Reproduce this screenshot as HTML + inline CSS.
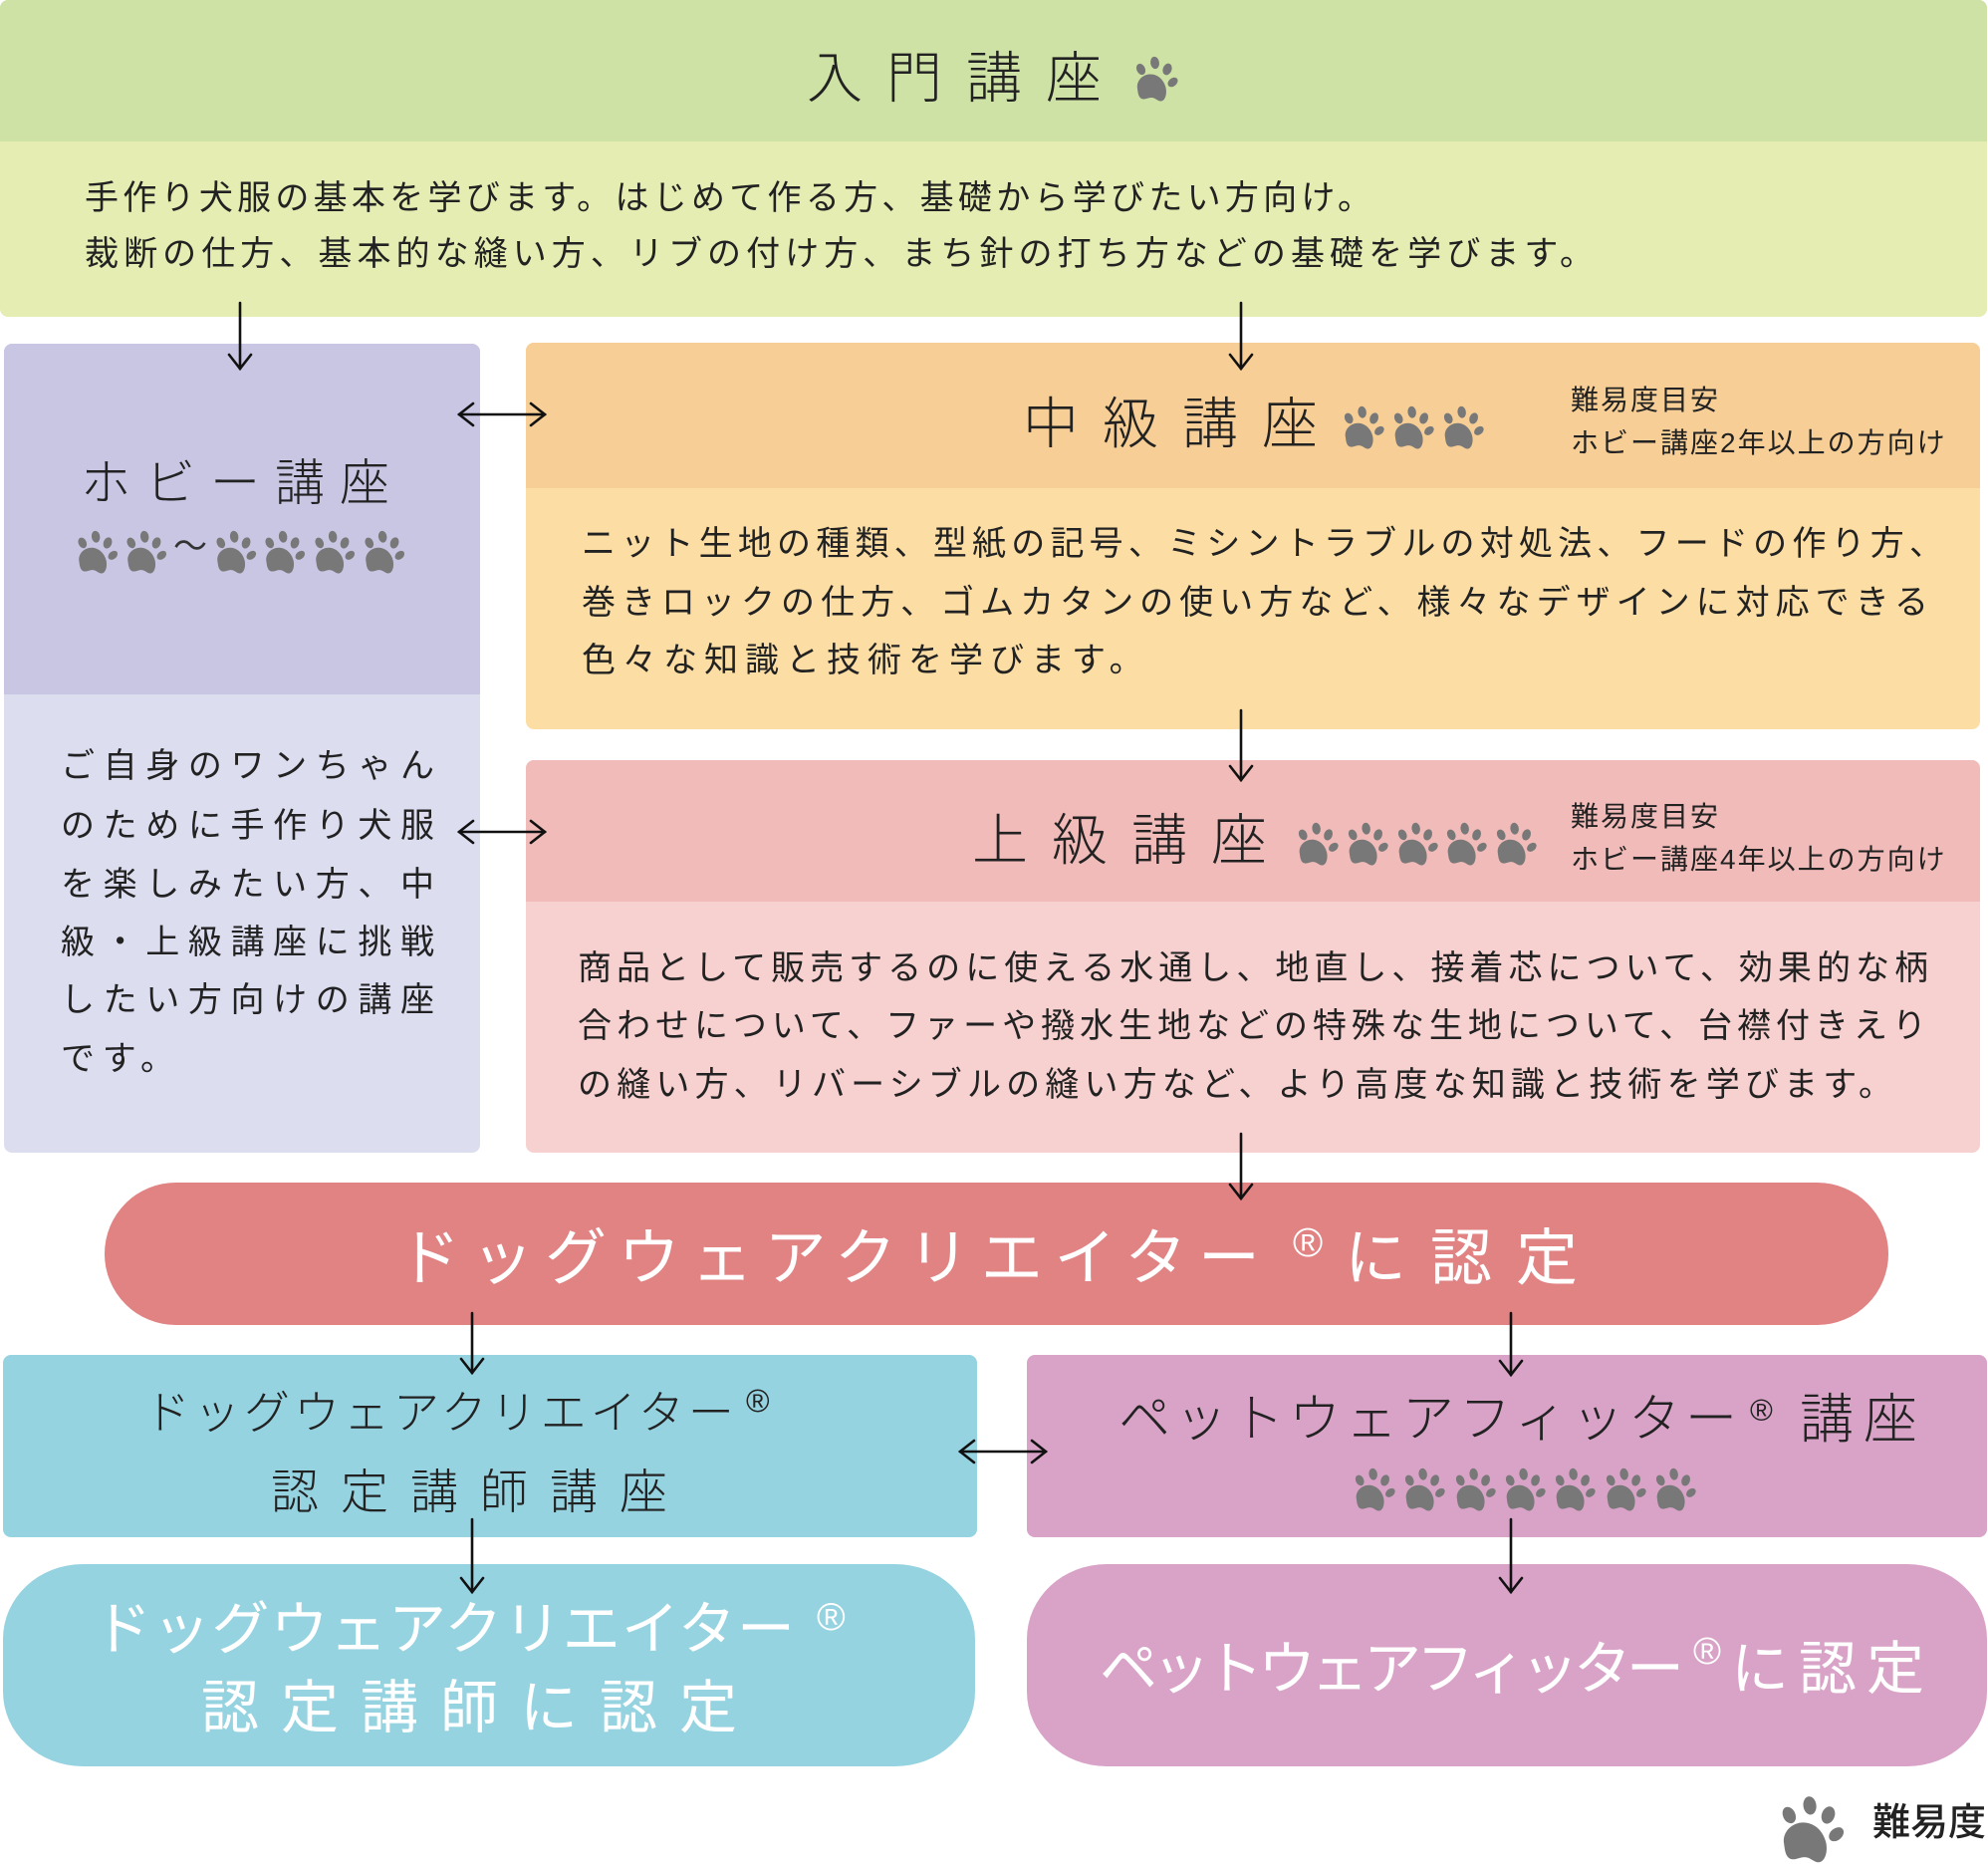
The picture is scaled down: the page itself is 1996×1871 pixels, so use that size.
<!DOCTYPE html>
<html lang="ja">
<head>
<meta charset="utf-8">
<style>
  html,body{margin:0;padding:0;}
  body{width:1996px;height:1871px;position:relative;overflow:hidden;background:#fff;
       font-family:"Liberation Sans","Noto Sans CJK JP",sans-serif;color:#222;}
  .box{position:absolute;border-radius:8px;overflow:hidden;}
  .hd{position:absolute;left:0;top:0;width:100%;}
  .t{position:absolute;white-space:nowrap;line-height:1;}
  .j{position:absolute;line-height:1;font-size:34px;text-align:justify;text-align-last:justify;}
  .ttl{font-weight:300;}
  .w{color:#fff;}
  .reg{font-family:"Liberation Sans",sans-serif;}
  svg.layer{position:absolute;left:0;top:0;}
</style>
</head>
<body>

<!-- 入門講座 -->
<div class="box" style="left:0;top:0;width:1995px;height:318px;background:#e5edb2;">
  <div class="hd" style="height:142px;background:#cde2a4;"></div>
</div>
<div class="t ttl" style="left:810px;top:51px;font-size:56px;letter-spacing:24px;">入門講座</div>
<div class="j" style="left:85px;top:182px;width:1292px;">手作り犬服の基本を学びます。はじめて作る方、基礎から学びたい方向け。</div>
<div class="j" style="left:85px;top:238px;width:1515px;">裁断の仕方、基本的な縫い方、リブの付け方、まち針の打ち方などの基礎を学びます。</div>

<!-- ホビー講座 -->
<div class="box" style="left:4px;top:345px;width:478px;height:812px;background:#dcdef0;">
  <div class="hd" style="height:352px;background:#c8c6e3;"></div>
</div>
<div class="t ttl" style="left:81px;top:460px;font-size:50px;letter-spacing:15px;">ホビー講座</div>
<div class="t" style="left:174px;top:532px;font-size:34px;color:#333;">〜</div>
<div class="j" style="left:61px;top:752px;width:375px;">ご自身のワンちゃん</div>
<div class="j" style="left:61px;top:812px;width:375px;">のために手作り犬服</div>
<div class="j" style="left:61px;top:871px;width:375px;">を楽しみたい方、中</div>
<div class="j" style="left:61px;top:929px;width:375px;">級・上級講座に挑戦</div>
<div class="j" style="left:61px;top:987px;width:375px;">したい方向けの講座</div>
<div class="t" style="left:61px;top:1046px;font-size:34px;letter-spacing:7.7px;">です。</div>

<!-- 中級講座 -->
<div class="box" style="left:528px;top:344px;width:1460px;height:388px;background:#fcdea5;">
  <div class="hd" style="height:146px;background:#f7cf96;"></div>
</div>
<div class="t ttl" style="left:1027px;top:398px;font-size:56px;letter-spacing:24px;">中級講座</div>
<div class="t" style="left:1577px;top:388px;font-size:28px;letter-spacing:2px;">難易度目安</div>
<div class="t" style="left:1577px;top:431px;font-size:28px;letter-spacing:2px;">ホビー講座2年以上の方向け</div>
<div class="j" style="left:584px;top:529px;width:1367px;">ニット生地の種類、型紙の記号、ミシントラブルの対処法、フードの作り方、</div>
<div class="j" style="left:584px;top:588px;width:1352px;">巻きロックの仕方、ゴムカタンの使い方など、様々なデザインに対応できる</div>
<div class="t" style="left:584px;top:646px;font-size:34px;letter-spacing:7px;">色々な知識と技術を学びます。</div>

<!-- 上級講座 -->
<div class="box" style="left:528px;top:763px;width:1460px;height:394px;background:#f7d0d0;">
  <div class="hd" style="height:142px;background:#f0bbb8;"></div>
</div>
<div class="t ttl" style="left:976px;top:816px;font-size:56px;letter-spacing:24px;">上級講座</div>
<div class="t" style="left:1577px;top:806px;font-size:28px;letter-spacing:2px;">難易度目安</div>
<div class="t" style="left:1577px;top:849px;font-size:28px;letter-spacing:2px;">ホビー講座4年以上の方向け</div>
<div class="j" style="left:580px;top:955px;width:1356px;">商品として販売するのに使える水通し、地直し、接着芯について、効果的な柄</div>
<div class="j" style="left:580px;top:1013px;width:1354px;">合わせについて、ファーや撥水生地などの特殊な生地について、台襟付きえり</div>
<div class="j" style="left:580px;top:1072px;width:1320px;">の縫い方、リバーシブルの縫い方など、より高度な知識と技術を学びます。</div>

<!-- 認定 pill -->
<div style="position:absolute;left:105px;top:1187px;width:1791px;height:143px;border-radius:72px;background:#e18283;"></div>
<div class="t w" style="left:400px;top:1233px;font-size:62px;letter-spacing:11.5px;">ドッグウェアクリエイター</div>
<div class="t w reg" style="left:1298px;top:1227px;font-size:41px;">®</div>
<div class="t w" style="left:1350px;top:1233px;font-size:62px;letter-spacing:24px;">に認定</div>

<!-- 認定講師講座 -->
<div class="box" style="left:3px;top:1360px;width:978px;height:183px;background:#96d3e1;"></div>
<div class="t ttl" style="left:145px;top:1395px;font-size:46px;letter-spacing:4px;">ドッグウェアクリエイター</div>
<div class="t reg" style="left:749px;top:1390px;font-size:32px;">®</div>
<div class="t ttl" style="left:272px;top:1475px;font-size:48px;letter-spacing:22px;">認定講師講座</div>

<!-- ペットウェアフィッター講座 -->
<div class="box" style="left:1031px;top:1360px;width:964px;height:183px;background:#d9a3c8;"></div>
<div class="t ttl" style="left:1123px;top:1399px;font-size:52px;letter-spacing:5px;">ペットウェアフィッター</div>
<div class="t reg" style="left:1757px;top:1400px;font-size:31px;">®</div>
<div class="t ttl" style="left:1807px;top:1398px;font-size:54px;letter-spacing:10px;">講座</div>

<!-- 認定講師に認定 pill -->
<div style="position:absolute;left:3px;top:1570px;width:976px;height:203px;border-radius:80px/75px;background:#96d3e1;"></div>
<div class="t w" style="left:94px;top:1607px;font-size:58px;letter-spacing:1.2px;">ドッグウェアクリエイター</div>
<div class="t w reg" style="left:820px;top:1604px;font-size:39px;">®</div>
<div class="t w" style="left:202px;top:1686px;font-size:58px;letter-spacing:22px;">認定講師に認定</div>

<!-- ペットウェアフィッターに認定 pill -->
<div style="position:absolute;left:1031px;top:1570px;width:964px;height:203px;border-radius:80px/75px;background:#d9a3c8;"></div>
<div class="t w" style="left:1104px;top:1647px;font-size:58px;letter-spacing:-5px;">ペットウェアフィッター</div>
<div class="t w reg" style="left:1700px;top:1639px;font-size:38px;">®</div>
<div class="t w" style="left:1738px;top:1647px;font-size:58px;letter-spacing:10px;">に認定</div>

<!-- legend -->
<div class="t" style="left:1880px;top:1811px;font-size:38px;font-weight:500;">難易度</div>

<!-- paws -->
<svg class="layer" width="1996" height="1871" viewBox="0 0 1996 1871" xmlns="http://www.w3.org/2000/svg">
  <defs>
    <symbol id="paw" viewBox="0 0 44 46">
      <g fill="#787878">
        <ellipse cx="5" cy="13.5" rx="4.2" ry="5.8" transform="rotate(-25 5 13.5)"/>
        <ellipse cx="19" cy="7" rx="4.4" ry="6.2" transform="rotate(-8 19 7)"/>
        <ellipse cx="31.5" cy="13.5" rx="4.4" ry="6" transform="rotate(20 31.5 13.5)"/>
        <ellipse cx="37" cy="26.5" rx="4" ry="5.6" transform="rotate(50 37 26.5)"/>
        <path d="M1.5,33 C0,25 7,18.5 14.5,18.5 C22,18.5 28,24 30,32 C31.5,39 29,45.5 25,45.5 C21.5,45.5 19.5,42 15.5,42 C11.5,42 9,44.5 5.5,43 C2.5,41.5 2,37 1.5,33 Z"/>
      </g>
    </symbol>
  </defs>
  <!-- 入門 -->
  <use href="#paw" x="1140" y="56" width="45" height="46"/>
  <!-- hobby -->
  <use href="#paw" x="78" y="532" width="42" height="44"/>
  <use href="#paw" x="127" y="532" width="42" height="44"/>
  <use href="#paw" x="217" y="532" width="42" height="44"/>
  <use href="#paw" x="266" y="532" width="42" height="44"/>
  <use href="#paw" x="316" y="532" width="42" height="44"/>
  <use href="#paw" x="366" y="532" width="42" height="44"/>
  <!-- 中級 -->
  <use href="#paw" x="1349" y="407" width="43" height="44"/>
  <use href="#paw" x="1399" y="407" width="43" height="44"/>
  <use href="#paw" x="1449" y="407" width="43" height="44"/>
  <!-- 上級 -->
  <use href="#paw" x="1303" y="825" width="43" height="44"/>
  <use href="#paw" x="1353" y="825" width="43" height="44"/>
  <use href="#paw" x="1403" y="825" width="43" height="44"/>
  <use href="#paw" x="1452" y="825" width="43" height="44"/>
  <use href="#paw" x="1502" y="825" width="43" height="44"/>
  <!-- pet fitter -->
  <use href="#paw" x="1360" y="1473" width="43" height="44"/>
  <use href="#paw" x="1410" y="1473" width="43" height="44"/>
  <use href="#paw" x="1461" y="1473" width="43" height="44"/>
  <use href="#paw" x="1511" y="1473" width="43" height="44"/>
  <use href="#paw" x="1561" y="1473" width="43" height="44"/>
  <use href="#paw" x="1612" y="1473" width="43" height="44"/>
  <use href="#paw" x="1662" y="1473" width="43" height="44"/>
  <!-- legend -->
  <use href="#paw" x="1788" y="1802" width="67" height="68"/>

  <!-- arrows -->
  <g stroke="#111" stroke-width="2.6" fill="none" stroke-linecap="round" stroke-linejoin="miter">
    <!-- down arrows -->
    <line x1="241" y1="304" x2="241" y2="370"/><polyline points="230,356 241,370 252,356"/>
    <line x1="1246" y1="304" x2="1246" y2="370"/><polyline points="1235,356 1246,370 1257,356"/>
    <line x1="1246" y1="713" x2="1246" y2="783"/><polyline points="1235,769 1246,783 1257,769"/>
    <line x1="1246" y1="1138" x2="1246" y2="1203"/><polyline points="1235,1189 1246,1203 1257,1189"/>
    <line x1="474" y1="1318" x2="474" y2="1378"/><polyline points="463,1364 474,1378 485,1364"/>
    <line x1="1517" y1="1318" x2="1517" y2="1380"/><polyline points="1506,1366 1517,1380 1528,1366"/>
    <line x1="474" y1="1525" x2="474" y2="1598"/><polyline points="463,1584 474,1598 485,1584"/>
    <line x1="1517" y1="1525" x2="1517" y2="1598"/><polyline points="1506,1584 1517,1598 1528,1584"/>
    <!-- double arrows -->
    <line x1="461" y1="416" x2="547" y2="416"/>
    <polyline points="475,405 461,416 475,427"/><polyline points="533,405 547,416 533,427"/>
    <line x1="461" y1="835" x2="547" y2="835"/>
    <polyline points="475,824 461,835 475,846"/><polyline points="533,824 547,835 533,846"/>
    <line x1="964" y1="1457" x2="1050" y2="1457"/>
    <polyline points="978,1446 964,1457 978,1468"/><polyline points="1036,1446 1050,1457 1036,1468"/>
  </g>
</svg>

</body>
</html>
